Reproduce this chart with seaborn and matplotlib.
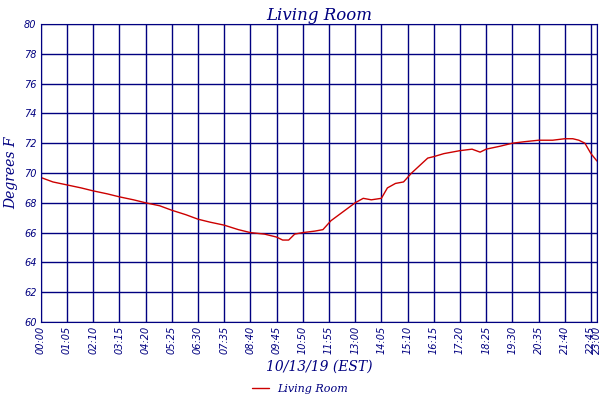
import matplotlib
matplotlib.use("Agg")
import matplotlib.pyplot as plt
import seaborn as sns
import pandas as pd

minutes = [0, 30, 65, 100, 130, 165, 195, 230, 260, 295, 325, 360, 390, 420, 455, 490, 520, 555, 585, 600, 615, 630, 650, 680, 700, 720, 750, 780, 800, 820, 845, 860, 880, 900, 920, 940, 960, 975, 1000, 1040, 1070, 1090, 1105, 1140, 1170, 1200, 1235, 1270, 1300, 1320, 1335, 1350, 1365, 1380]
temps = [69.7, 69.4, 69.2, 69.0, 68.8, 68.6, 68.4, 68.2, 68.0, 67.8, 67.5, 67.2, 66.9, 66.7, 66.5, 66.2, 66.0, 65.9, 65.7, 65.5, 65.5, 65.9, 66.0, 66.1, 66.2, 66.8, 67.4, 68.0, 68.3, 68.2, 68.3, 69.0, 69.3, 69.4, 70.0, 70.5, 71.0, 71.1, 71.3, 71.5, 71.6, 71.4, 71.6, 71.8, 72.0, 72.1, 72.2, 72.2, 72.3, 72.3, 72.2, 72.0, 71.3, 70.8]
tick_min = list(range(0, 1366, 65)) + [1380]
tick_labels = [f"{m//60:02d}:{m%60:02d}" for m in tick_min]

df = pd.DataFrame({"min": minutes, "temp": temps})
sns.set_style("white")
navy = "#000080"
fig, ax = plt.subplots(figsize=(6, 4), dpi=100)
fig.subplots_adjust(left=0.068, right=0.995, top=0.94, bottom=0.195)
sns.lineplot(data=df, x="min", y="temp", ax=ax, color="#cc0000", lw=1, label="Living Room")
ax.set_xlim(0, 1380)
ax.set_ylim(60, 80)
ax.set_yticks(range(60, 81, 2))
ax.set_xticks(tick_min)
fnt = dict(family="DejaVu Serif", style="italic", color=navy)
ax.set_xticklabels(tick_labels, rotation=90, fontsize=7, color=navy, style="italic")
ax.set_yticklabels([str(v) for v in range(60, 81, 2)], fontsize=7, color=navy, style="italic")
ax.grid(True, color=navy, lw=1)
for s in ax.spines.values():
    s.set_color(navy)
ax.tick_params(length=0, pad=3)
ax.set_title("Living Room", fontsize=12, pad=3, **fnt)
ax.set_xlabel("10/13/19 (EST)", fontsize=10, labelpad=4, **fnt)
ax.set_ylabel("Degrees F", fontsize=10, labelpad=4, **fnt)
handles, labels = ax.get_legend_handles_labels()
ax.get_legend().remove()
leg = fig.legend(handles, labels, loc="center", bbox_to_anchor=(0.5, 0.027), frameon=False, fontsize=8, handlelength=1.5)
for t in leg.get_texts():
    t.set_color(navy); t.set_style("italic"); t.set_family("DejaVu Serif")
fig.savefig("out.png")
